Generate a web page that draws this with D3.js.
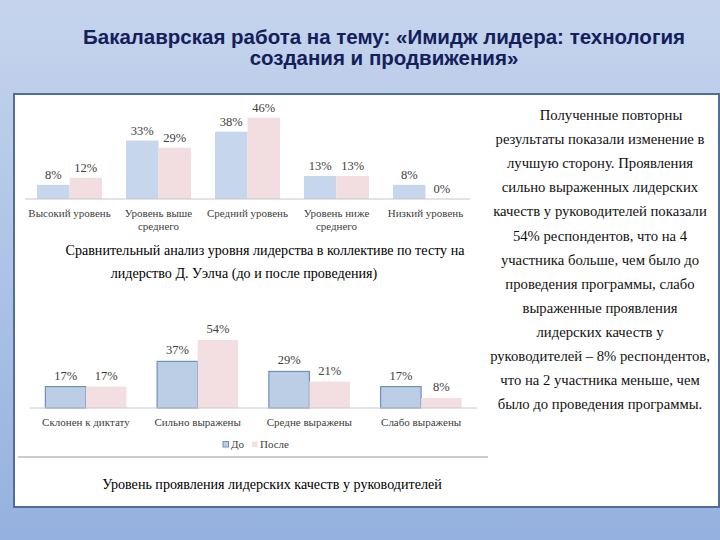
<!DOCTYPE html>
<html>
<head>
<meta charset="utf-8">
<script src="https://cdn.jsdelivr.net/npm/d3@7"></script>
<style>
  html, body { margin: 0; padding: 0; }
  body { width: 720px; height: 540px; overflow: hidden; }
</style>
</head>
<body>
<div id="slide"></div>
<script>
// chart 1: leadership level (Welch test)
const levelCats = [["Высокий уровень"], ["Уровень выше", "среднего"], ["Средний уровень"], ["Уровень ниже", "среднего"], ["Низкий уровень"]];
const levelBefore = [8, 33, 38, 13, 8];
const levelAfter = [12, 29, 46, 13, 0];

// chart 2: leadership qualities of managers
const qualityCats = ["Склонен к диктату", "Сильно выражены", "Средне выражены", "Слабо выражены"];
const qualityBefore = [17, 37, 29, 17];
const qualityAfter = [17, 54, 21, 8];

const seriesNames = ["До", "После"];

const titleLines = ["Бакалаврская работа на тему: «Имидж лидера: технология", "создания и продвижения»"];
const caption1 = ["Сравнительный анализ уровня лидерства в коллективе по тесту на", "лидерство Д. Уэлча (до и после проведения)"];
const caption2 = "Уровень проявления лидерских качеств у руководителей";
const sideText = [
  "Полученные повторны",
  "результаты показали изменение в",
  "лучшую сторону. Проявления",
  "сильно выраженных лидерских",
  "качеств у руководителей показали",
  "54% респондентов, что на 4",
  "участника больше, чем было до",
  "проведения программы, слабо",
  "выраженные проявления",
  "лидерских качеств у",
  "руководителей – 8% респондентов,",
  "что на 2 участника меньше, чем",
  "было до проведения программы."
];

const width = 720, height = 540;
const serif = "'Liberation Serif', 'Times New Roman', serif";

const svg = d3.select("#slide").append("svg")
  .attr("width", width)
  .attr("height", height);

const defs = svg.append("defs");
const grad = defs.append("linearGradient")
  .attr("id", "bg").attr("x1", 0).attr("y1", 0).attr("x2", 0).attr("y2", 1);
grad.append("stop").attr("offset", "0%").attr("stop-color", "#c6d4ed");
grad.append("stop").attr("offset", "100%").attr("stop-color", "#95b1df");

svg.append("rect").attr("width", width).attr("height", height).attr("fill", "url(#bg)");

// title
svg.append("g").selectAll("text")
  .data(titleLines)
  .enter().append("text")
  .attr("x", 384)
  .attr("y", (d, i) => 44 + i * 21)
  .attr("text-anchor", "middle")
  .style("font-family", "'Liberation Sans', Arial, sans-serif")
  .style("font-weight", "bold")
  .style("font-size", "20.5px")
  .attr("fill", "#13205a")
  .text(d => d);

// white panel
svg.append("rect")
  .attr("x", 14).attr("y", 94)
  .attr("width", 705).attr("height", 413)
  .attr("fill", "#ffffff")
  .attr("stroke", "#4f6e9c")
  .attr("stroke-width", 2);

function groupedBars(opts) {
  const g = svg.append("g");
  const x = d3.scaleBand()
    .domain(d3.range(opts.before.length))
    .range(opts.xRange)
    .paddingInner(opts.pad)
    .paddingOuter(opts.pad / 2);
  const x1 = d3.scaleBand().domain(seriesNames).range([0, x.bandwidth()]);
  const y = d3.scaleLinear().domain([0, opts.yMax]).range([opts.base, opts.base - opts.yLen]);

  const rows = opts.before.map((b, i) => [
    { i, s: "До", v: b },
    { i, s: "После", v: opts.after[i] }
  ]).flat();

  g.selectAll("rect.bar")
    .data(rows)
    .enter().append("rect")
    .attr("class", "bar")
    .attr("x", d => x(d.i) + x1(d.s))
    .attr("width", x1.bandwidth())
    .attr("y", d => y(d.v))
    .attr("height", d => y(0) - y(d.v))
    .attr("fill", d => d.s === "До" ? opts.blue : opts.pink)
    .attr("stroke", d => d.s === "До" && opts.blueStroke ? opts.blueStroke : "none")
    .attr("stroke-width", 1.2);

  g.selectAll("text.val")
    .data(rows)
    .enter().append("text")
    .attr("class", "val")
    .attr("x", d => x(d.i) + x1(d.s) + x1.bandwidth() / 2)
    .attr("y", d => y(d.v) - opts.labelGap)
    .attr("text-anchor", "middle")
    .style("font-family", serif)
    .style("font-size", "12.5px")
    .attr("fill", "#404040")
    .text(d => d.v + "%");

  // axis line
  g.append("line")
    .attr("x1", opts.xRange[0]).attr("x2", opts.xRange[1])
    .attr("y1", opts.base).attr("y2", opts.base)
    .attr("stroke", "#c8c8c8").attr("stroke-width", 1);

  // category labels
  const cat = g.selectAll("text.cat")
    .data(opts.cats)
    .enter().append("text")
    .attr("class", "cat")
    .attr("x", (d, i) => x(i) + x.bandwidth() / 2)
    .attr("y", opts.base + opts.catGap)
    .attr("text-anchor", "middle")
    .style("font-family", serif)
    .style("font-size", "11px")
    .attr("fill", "#404040");
  cat.selectAll("tspan")
    .data(d => Array.isArray(d) ? d : [d])
    .enter().append("tspan")
    .attr("x", function () { return this.parentNode.getAttribute("x"); })
    .attr("dy", (d, i) => i === 0 ? 0 : 12.5)
    .text(d => d);
  return { x, y };
}

groupedBars({
  cats: levelCats, before: levelBefore, after: levelAfter,
  xRange: [25, 470], pad: 0.27, base: 199, yMax: 50, yLen: 88.5,
  blue: "#c6d6ec", pink: "#f2dee1", labelGap: 6, catGap: 18
});

groupedBars({
  cats: qualityCats, before: qualityBefore, after: qualityAfter,
  xRange: [30, 477], pad: 0.275, base: 408, yMax: 60, yLen: 75.6,
  blue: "#bccee6", pink: "#f3dfe2", blueStroke: "#6d8fbe", labelGap: 7, catGap: 18
});

// legend for chart 2
const legend = svg.append("g").attr("transform", "translate(223,441)");
const legItems = legend.selectAll("g")
  .data(seriesNames)
  .enter().append("g")
  .attr("transform", (d, i) => `translate(${i * 29},0)`);
legItems.append("rect")
  .attr("width", 5.5).attr("height", 5.5).attr("y", 0.5)
  .attr("fill", (d, i) => i === 0 ? "#bccee6" : "#f3dfe2")
  .attr("stroke", (d, i) => i === 0 ? "#6d8fbe" : "none");
legItems.append("text")
  .attr("x", 8).attr("y", 7)
  .style("font-family", serif)
  .style("font-size", "11px")
  .attr("fill", "#404040")
  .text(d => d);

// separator under chart 2
svg.append("line")
  .attr("x1", 18).attr("x2", 488)
  .attr("y1", 457).attr("y2", 457)
  .attr("stroke", "#9a9a9a").attr("stroke-width", 1);

// captions
svg.append("g").selectAll("text")
  .data(caption1)
  .enter().append("text")
  .attr("x", (d, i) => i === 0 ? 265 : 244)
  .attr("y", (d, i) => 255 + i * 23)
  .attr("text-anchor", "middle")
  .style("font-family", serif)
  .style("font-size", "14.1px")
  .attr("fill", "#000")
  .text(d => d);

svg.append("text")
  .attr("x", 272).attr("y", 489)
  .attr("text-anchor", "middle")
  .style("font-family", serif)
  .style("font-size", "14.1px")
  .attr("fill", "#000")
  .text(caption2);

// side text
svg.append("g").selectAll("text")
  .data(sideText)
  .enter().append("text")
  .attr("x", (d, i) => i === 0 ? 611 : 600)
  .attr("y", (d, i) => 120 + i * 24.1)
  .attr("text-anchor", "middle")
  .style("font-family", serif)
  .style("font-size", "14.7px")
  .attr("fill", "#111")
  .text(d => d);
</script>
</body>
</html>
